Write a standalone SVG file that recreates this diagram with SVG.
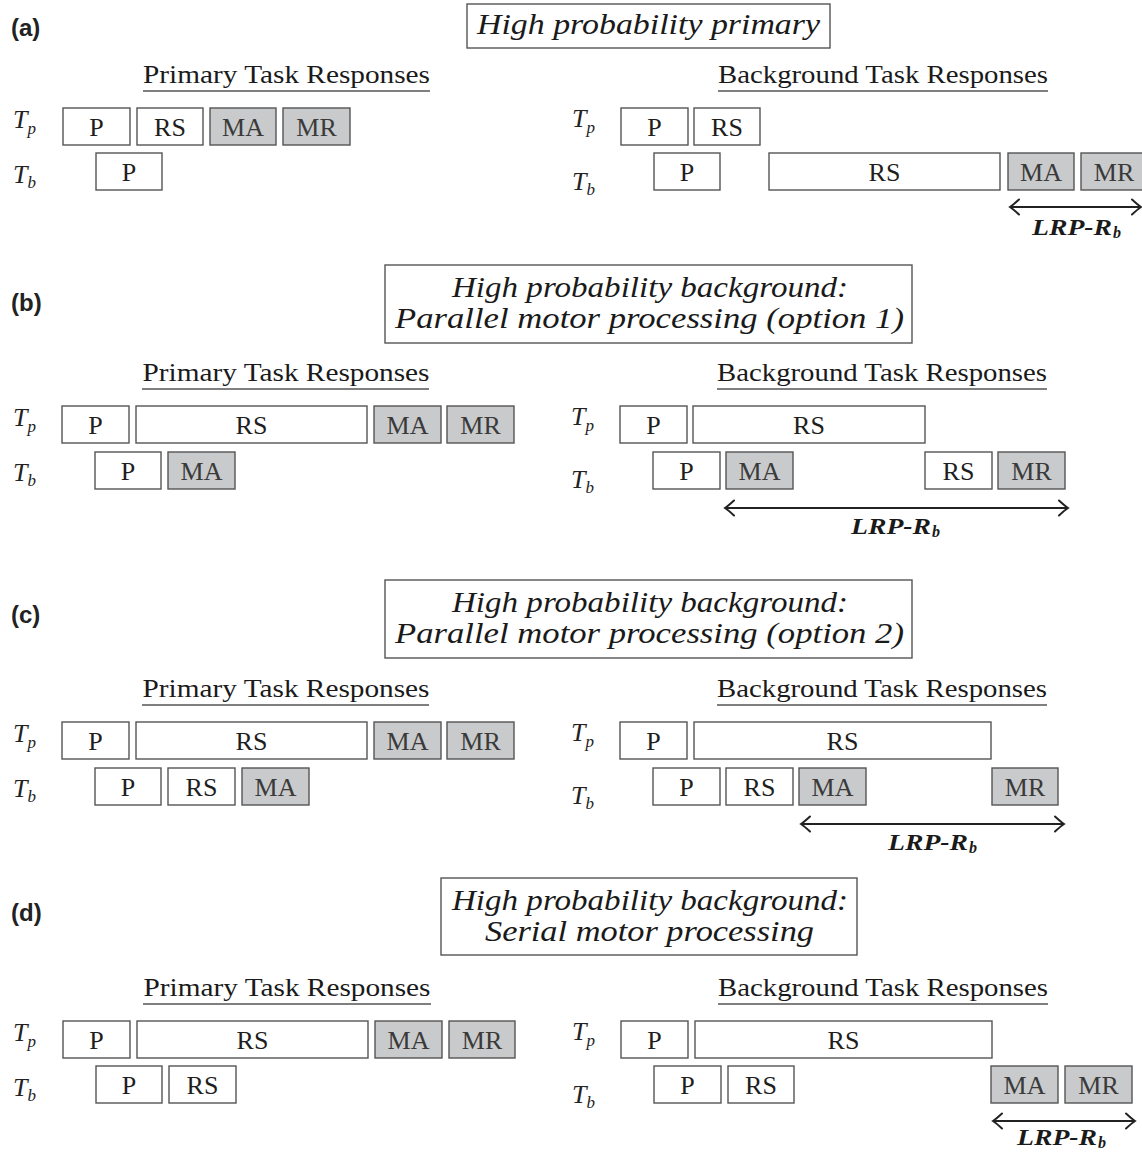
<svg xmlns="http://www.w3.org/2000/svg" width="1142" height="1152" viewBox="0 0 1142 1152">
<style>
.bg{fill:#fff}
.box{fill:#fff;stroke:#555;stroke-width:1.4}
.g{fill:#c9cacc;stroke:#555;stroke-width:1.4}
.tbox{fill:#fff;stroke:#555;stroke-width:1.4}
.bt{font-family:"Liberation Serif",serif;font-size:26px;fill:#1e1e1e;text-anchor:middle}
.gt{fill:#3a3a3a}
.title{font-family:"Liberation Serif",serif;font-style:italic;font-size:30px;fill:#1a1a1a;text-anchor:middle}
.head{font-family:"Liberation Serif",serif;font-size:25px;fill:#1a1a1a;text-anchor:middle}
.ul{stroke:#555;stroke-width:1.5}
.lbl{font-family:"Liberation Sans",Arial,sans-serif;font-weight:bold;font-size:24px;fill:#222}
.tl{font-family:"Liberation Serif",serif;font-style:italic;font-size:26px;fill:#222}
.sub{font-size:17px}
.lrp{font-family:"Liberation Serif",serif;font-style:italic;font-weight:bold;font-size:24px;fill:#1a1a1a}
.lsub{font-family:"Liberation Serif",serif;font-style:italic;font-weight:bold;font-size:16px;fill:#1a1a1a}
.arr{stroke:#222;stroke-width:2;fill:none}
</style>
<defs>
<marker id="ah" markerUnits="userSpaceOnUse" markerWidth="20" markerHeight="20" viewBox="-12 -10 14 20" refX="0" refY="0" orient="auto-start-reverse">
<path d="M -9 -7.5 Q -3 -2 0 0 Q -3 2 -9 7.5" fill="none" stroke="#222" stroke-width="2" stroke-linecap="round"/>
</marker>
</defs>
<rect class="bg" x="0" y="0" width="1142" height="1152"/>

<!-- ===== Panel (a) ===== -->
<g id="panel-a">
<text class="lbl" x="11" y="36">(a)</text>
<g id="title-a"><rect class="tbox" x="467" y="4" width="363" height="44"/>
<text class="title" x="648.5" y="34" textLength="343" lengthAdjust="spacingAndGlyphs">High probability primary</text></g>
<g id="head-a-p"><text class="head" x="286.5" y="83" textLength="287" lengthAdjust="spacingAndGlyphs">Primary Task Responses</text><line class="ul" x1="143" y1="91" x2="430" y2="91"/></g>
<g id="head-a-b"><text class="head" x="883" y="83" textLength="330" lengthAdjust="spacingAndGlyphs">Background Task Responses</text><line class="ul" x1="718" y1="91" x2="1048" y2="91"/></g>
<text class="tl" x="13" y="128">T<tspan class="sub" dy="6">p</tspan></text>
<text class="tl" x="13" y="183">T<tspan class="sub" dy="5">b</tspan></text>
<text class="tl" x="572" y="127">T<tspan class="sub" dy="6">p</tspan></text>
<text class="tl" x="572" y="190">T<tspan class="sub" dy="5">b</tspan></text>
<g id="a-lp-P"><rect class="box" x="63" y="108" width="67" height="37"/><text class="bt" x="96.5" y="135.5">P</text></g>
<g id="a-lp-RS"><rect class="box" x="137" y="108" width="66" height="37"/><text class="bt" x="170" y="135.5">RS</text></g>
<g id="a-lp-MA"><rect class="g" x="210" y="108" width="66" height="37"/><text class="bt gt" x="243" y="135.5">MA</text></g>
<g id="a-lp-MR"><rect class="g" x="283" y="108" width="67" height="37"/><text class="bt gt" x="316.5" y="135.5">MR</text></g>
<g id="a-lb-P"><rect class="box" x="96" y="153" width="66" height="37"/><text class="bt" x="129" y="180.5">P</text></g>
<g id="a-rp-P"><rect class="box" x="621" y="108" width="67" height="37"/><text class="bt" x="654.5" y="135.5">P</text></g>
<g id="a-rp-RS"><rect class="box" x="694" y="108" width="66" height="37"/><text class="bt" x="727" y="135.5">RS</text></g>
<g id="a-rb-P"><rect class="box" x="654" y="153" width="66" height="37"/><text class="bt" x="687" y="180.5">P</text></g>
<g id="a-rb-RS"><rect class="box" x="769" y="153" width="231" height="37"/><text class="bt" x="884.5" y="180.5">RS</text></g>
<g id="a-rb-MA"><rect class="g" x="1008" y="153" width="66" height="37"/><text class="bt gt" x="1041" y="180.5">MA</text></g>
<g id="a-rb-MR"><rect class="g" x="1081" y="153" width="66" height="37"/><text class="bt gt" x="1114" y="180.5">MR</text></g>
</g>

<!-- ===== Panel (b) ===== -->
<g id="panel-b">
<text class="lbl" x="11" y="311">(b)</text>
<g id="title-b"><rect class="tbox" x="385" y="265" width="527" height="78"/>
<text class="title" x="650" y="297" textLength="396" lengthAdjust="spacingAndGlyphs">High probability background:</text>
<text class="title" x="649.5" y="328" textLength="509" lengthAdjust="spacingAndGlyphs">Parallel motor processing (option 1)</text></g>
<g id="head-b-p"><text class="head" x="286" y="381" textLength="287" lengthAdjust="spacingAndGlyphs">Primary Task Responses</text><line class="ul" x1="142" y1="389" x2="429" y2="389"/></g>
<g id="head-b-b"><text class="head" x="882" y="381" textLength="330" lengthAdjust="spacingAndGlyphs">Background Task Responses</text><line class="ul" x1="717" y1="389" x2="1047" y2="389"/></g>
<text class="tl" x="13" y="426">T<tspan class="sub" dy="6">p</tspan></text>
<text class="tl" x="13" y="481">T<tspan class="sub" dy="5">b</tspan></text>
<text class="tl" x="571" y="425">T<tspan class="sub" dy="6">p</tspan></text>
<text class="tl" x="571" y="488">T<tspan class="sub" dy="5">b</tspan></text>
<g id="b-lp-P"><rect class="box" x="62" y="406" width="67" height="37"/><text class="bt" x="95.5" y="433.5">P</text></g>
<g id="b-lp-RS"><rect class="box" x="136" y="406" width="231" height="37"/><text class="bt" x="251.5" y="433.5">RS</text></g>
<g id="b-lp-MA"><rect class="g" x="374" y="406" width="67" height="37"/><text class="bt gt" x="407.5" y="433.5">MA</text></g>
<g id="b-lp-MR"><rect class="g" x="447" y="406" width="67" height="37"/><text class="bt gt" x="480.5" y="433.5">MR</text></g>
<g id="b-lb-P"><rect class="box" x="95" y="452" width="66" height="37"/><text class="bt" x="128" y="479.5">P</text></g>
<g id="b-lb-MA"><rect class="g" x="168" y="452" width="67" height="37"/><text class="bt gt" x="201.5" y="479.5">MA</text></g>
<g id="b-rp-P"><rect class="box" x="620" y="406" width="67" height="37"/><text class="bt" x="653.5" y="433.5">P</text></g>
<g id="b-rp-RS"><rect class="box" x="693" y="406" width="232" height="37"/><text class="bt" x="809" y="433.5">RS</text></g>
<g id="b-rb-P"><rect class="box" x="653" y="452" width="67" height="37"/><text class="bt" x="686.5" y="479.5">P</text></g>
<g id="b-rb-MA"><rect class="g" x="726" y="452" width="67" height="37"/><text class="bt gt" x="759.5" y="479.5">MA</text></g>
<g id="b-rb-RS"><rect class="box" x="925" y="452" width="67" height="37"/><text class="bt" x="958.5" y="479.5">RS</text></g>
<g id="b-rb-MR"><rect class="g" x="998" y="452" width="67" height="37"/><text class="bt gt" x="1031.5" y="479.5">MR</text></g>
</g>

<!-- ===== Panel (c) ===== -->
<g id="panel-c">
<text class="lbl" x="11" y="623">(c)</text>
<g id="title-c"><rect class="tbox" x="385" y="580" width="527" height="78"/>
<text class="title" x="650" y="612" textLength="396" lengthAdjust="spacingAndGlyphs">High probability background:</text>
<text class="title" x="649.5" y="643" textLength="509" lengthAdjust="spacingAndGlyphs">Parallel motor processing (option 2)</text></g>
<g id="head-c-p"><text class="head" x="286" y="697" textLength="287" lengthAdjust="spacingAndGlyphs">Primary Task Responses</text><line class="ul" x1="142" y1="705" x2="429" y2="705"/></g>
<g id="head-c-b"><text class="head" x="882" y="697" textLength="330" lengthAdjust="spacingAndGlyphs">Background Task Responses</text><line class="ul" x1="717" y1="705" x2="1047" y2="705"/></g>
<text class="tl" x="13" y="742">T<tspan class="sub" dy="6">p</tspan></text>
<text class="tl" x="13" y="797">T<tspan class="sub" dy="5">b</tspan></text>
<text class="tl" x="571" y="741">T<tspan class="sub" dy="6">p</tspan></text>
<text class="tl" x="571" y="804">T<tspan class="sub" dy="5">b</tspan></text>
<g id="c-lp-P"><rect class="box" x="62" y="722" width="67" height="37"/><text class="bt" x="95.5" y="749.5">P</text></g>
<g id="c-lp-RS"><rect class="box" x="136" y="722" width="231" height="37"/><text class="bt" x="251.5" y="749.5">RS</text></g>
<g id="c-lp-MA"><rect class="g" x="374" y="722" width="67" height="37"/><text class="bt gt" x="407.5" y="749.5">MA</text></g>
<g id="c-lp-MR"><rect class="g" x="447" y="722" width="67" height="37"/><text class="bt gt" x="480.5" y="749.5">MR</text></g>
<g id="c-lb-P"><rect class="box" x="95" y="768" width="66" height="37"/><text class="bt" x="128" y="795.5">P</text></g>
<g id="c-lb-RS"><rect class="box" x="168" y="768" width="67" height="37"/><text class="bt" x="201.5" y="795.5">RS</text></g>
<g id="c-lb-MA"><rect class="g" x="242" y="768" width="67" height="37"/><text class="bt gt" x="275.5" y="795.5">MA</text></g>
<g id="c-rp-P"><rect class="box" x="620" y="722" width="67" height="37"/><text class="bt" x="653.5" y="749.5">P</text></g>
<g id="c-rp-RS"><rect class="box" x="694" y="722" width="297" height="37"/><text class="bt" x="842.5" y="749.5">RS</text></g>
<g id="c-rb-P"><rect class="box" x="653" y="768" width="67" height="37"/><text class="bt" x="686.5" y="795.5">P</text></g>
<g id="c-rb-RS"><rect class="box" x="726" y="768" width="67" height="37"/><text class="bt" x="759.5" y="795.5">RS</text></g>
<g id="c-rb-MA"><rect class="g" x="799" y="768" width="67" height="37"/><text class="bt gt" x="832.5" y="795.5">MA</text></g>
<g id="c-rb-MR"><rect class="g" x="992" y="768" width="66" height="37"/><text class="bt gt" x="1025" y="795.5">MR</text></g>
</g>

<!-- ===== Panel (d) ===== -->
<g id="panel-d">
<text class="lbl" x="11" y="921">(d)</text>
<g id="title-d"><rect class="tbox" x="441" y="878" width="416" height="77"/>
<text class="title" x="650" y="910" textLength="396" lengthAdjust="spacingAndGlyphs">High probability background:</text>
<text class="title" x="649.5" y="941" textLength="329" lengthAdjust="spacingAndGlyphs">Serial motor processing</text></g>
<g id="head-d-p"><text class="head" x="287" y="996" textLength="287" lengthAdjust="spacingAndGlyphs">Primary Task Responses</text><line class="ul" x1="143" y1="1004" x2="431" y2="1004"/></g>
<g id="head-d-b"><text class="head" x="883" y="996" textLength="330" lengthAdjust="spacingAndGlyphs">Background Task Responses</text><line class="ul" x1="718" y1="1004" x2="1048" y2="1004"/></g>
<text class="tl" x="13" y="1041">T<tspan class="sub" dy="6">p</tspan></text>
<text class="tl" x="13" y="1096">T<tspan class="sub" dy="5">b</tspan></text>
<text class="tl" x="572" y="1040">T<tspan class="sub" dy="6">p</tspan></text>
<text class="tl" x="572" y="1103">T<tspan class="sub" dy="5">b</tspan></text>
<g id="d-lp-P"><rect class="box" x="63" y="1021" width="67" height="37"/><text class="bt" x="96.5" y="1048.5">P</text></g>
<g id="d-lp-RS"><rect class="box" x="137" y="1021" width="231" height="37"/><text class="bt" x="252.5" y="1048.5">RS</text></g>
<g id="d-lp-MA"><rect class="g" x="375" y="1021" width="67" height="37"/><text class="bt gt" x="408.5" y="1048.5">MA</text></g>
<g id="d-lp-MR"><rect class="g" x="449" y="1021" width="66" height="37"/><text class="bt gt" x="482" y="1048.5">MR</text></g>
<g id="d-lb-P"><rect class="box" x="96" y="1066" width="66" height="37"/><text class="bt" x="129" y="1093.5">P</text></g>
<g id="d-lb-RS"><rect class="box" x="169" y="1066" width="67" height="37"/><text class="bt" x="202.5" y="1093.5">RS</text></g>
<g id="d-rp-P"><rect class="box" x="621" y="1021" width="67" height="37"/><text class="bt" x="654.5" y="1048.5">P</text></g>
<g id="d-rp-RS"><rect class="box" x="695" y="1021" width="297" height="37"/><text class="bt" x="843.5" y="1048.5">RS</text></g>
<g id="d-rb-P"><rect class="box" x="654" y="1066" width="67" height="37"/><text class="bt" x="687.5" y="1093.5">P</text></g>
<g id="d-rb-RS"><rect class="box" x="728" y="1066" width="66" height="37"/><text class="bt" x="761" y="1093.5">RS</text></g>
<g id="d-rb-MA"><rect class="g" x="991" y="1066" width="67" height="37"/><text class="bt gt" x="1024.5" y="1093.5">MA</text></g>
<g id="d-rb-MR"><rect class="g" x="1065" y="1066" width="67" height="37"/><text class="bt gt" x="1098.5" y="1093.5">MR</text></g>
</g>

<!-- ===== Connectors (LRP-Rb spans) ===== -->
<g id="connectors">
<line class="arr" x1="1010" y1="207" x2="1141" y2="207" marker-start="url(#ah)" marker-end="url(#ah)"/>
<text class="lrp" x="1032" y="235" textLength="80" lengthAdjust="spacingAndGlyphs">LRP-R</text><text class="lsub" x="1113" y="238">b</text>
<line class="arr" x1="725" y1="508" x2="1068" y2="508" marker-start="url(#ah)" marker-end="url(#ah)"/>
<text class="lrp" x="851" y="534" textLength="80" lengthAdjust="spacingAndGlyphs">LRP-R</text><text class="lsub" x="932" y="537">b</text>
<line class="arr" x1="801" y1="824" x2="1064" y2="824" marker-start="url(#ah)" marker-end="url(#ah)"/>
<text class="lrp" x="888" y="850" textLength="80" lengthAdjust="spacingAndGlyphs">LRP-R</text><text class="lsub" x="969" y="853">b</text>
<line class="arr" x1="993" y1="1121" x2="1135" y2="1121" marker-start="url(#ah)" marker-end="url(#ah)"/>
<text class="lrp" x="1017" y="1145" textLength="80" lengthAdjust="spacingAndGlyphs">LRP-R</text><text class="lsub" x="1098" y="1148">b</text>
</g>
</svg>
